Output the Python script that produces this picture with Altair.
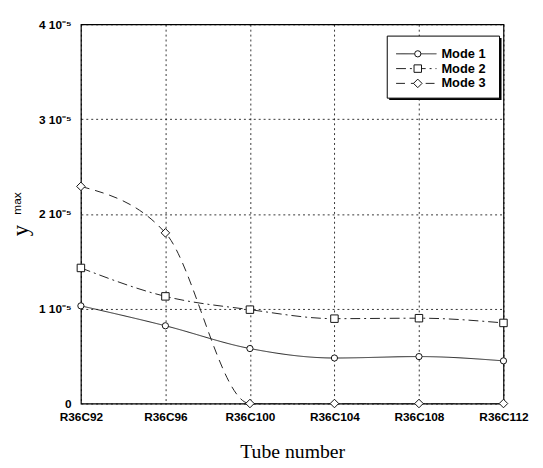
import altair as alt
import pandas as pd

tubes = ["R36C92", "R36C96", "R36C100", "R36C104", "R36C108", "R36C112"]
modes = ["Mode 1", "Mode 2", "Mode 3"]
mode1 = [1.03e-5, 0.82e-5, 0.58e-5, 0.48e-5, 0.495e-5, 0.45e-5]
mode2 = [1.43e-5, 1.13e-5, 0.99e-5, 0.895e-5, 0.90e-5, 0.85e-5]
mode3 = [2.29e-5, 1.80e-5, 0.0, 0.0, 0.0, 0.0]
y_ticks = [0, 1e-5, 2e-5, 3e-5, 4e-5]

rows = []
for m, vals in zip(modes, [mode1, mode2, mode3]):
    for i, (t, v) in enumerate(zip(tubes, vals)):
        rows.append({"mode": m, "idx": i, "tube": t, "y": v})
df = pd.DataFrame(rows)

dash_scale = alt.Scale(domain=modes, range=[[1, 0], [10, 4, 2, 4], [9, 6]])
shape_scale = alt.Scale(domain=modes, range=["circle", "square", "diamond"])
size_scale = alt.Scale(domain=modes, range=[40, 75, 40])

label_expr = "[" + ",".join("'%s'" % t for t in tubes) + "][datum.value]"

x_enc = alt.X("idx:Q", scale=alt.Scale(domain=[0, len(tubes) - 1], nice=False),
              axis=alt.Axis(values=list(range(len(tubes))), labelExpr=label_expr, labelFlush=False,
                            title="Tube number", titleFont="Liberation Serif",
                            titleFontSize=20, titleFontWeight="normal", titleColor="black",
                            titlePadding=20, labelPadding=8))
y_enc = alt.Y("y:Q", scale=alt.Scale(domain=[0, 4e-5], nice=False),
              axis=alt.Axis(values=y_ticks, labelPadding=10, labelFlush=False,
                            title="y", titleFont="Liberation Serif", titleFontSize=23,
                            titleFontWeight="normal", titleColor="black",
                            titleX=-61, titleY=209, titleAlign="center", titleBaseline="middle",
                            labelExpr="datum.value == 0 ? '0' : format(round(datum.value*1e5),'d') + ' 10\u207b\u2075'"))

lines = alt.Chart(df).mark_line(interpolate="monotone", strokeWidth=1, color="#222").encode(
    x=x_enc, y=y_enc,
    strokeDash=alt.StrokeDash("mode:N", scale=dash_scale, legend=None),
    detail="mode:N",
)
points = alt.Chart(df).mark_point(filled=False, color="#111", fill="white", fillOpacity=1, strokeWidth=1).encode(
    x="idx:Q", y="y:Q",
    shape=alt.Shape("mode:N", scale=shape_scale, legend=None),
    size=alt.Size("mode:N", scale=size_scale, legend=None),
)

# legend (layout in pixel space of the plot area)
leg = pd.DataFrame({"mode": modes, "row": [0, 1, 2]})
leg["ly"] = 30 + leg["row"] * 15
leg["x1"] = 320
leg["x2"] = 361
leg["xm"] = 342
leg["xt"] = 366
box = pd.DataFrame({"x": [311], "x2": [425], "y": [12], "y2": [75]})
shadow = alt.Chart(box).mark_rect(color="black").encode(
    x=alt.X("sx:Q", scale=None), x2="sx2:Q", y=alt.Y("sy:Q", scale=None), y2="sy2:Q"
).transform_calculate(sx="datum.x+2", sx2="datum.x2+2", sy="datum.y+2", sy2="datum.y2+2")
boxm = alt.Chart(box).mark_rect(fill="white", stroke="black", strokeWidth=1).encode(
    x=alt.X("x:Q", scale=None), x2="x2:Q", y=alt.Y("y:Q", scale=None), y2="y2:Q"
)
leg_lines = alt.Chart(leg).mark_rule(strokeWidth=1, color="#222").encode(
    x=alt.X("x1:Q", scale=None), x2="x2:Q", y=alt.Y("ly:Q", scale=None),
    strokeDash=alt.StrokeDash("mode:N", scale=dash_scale, legend=None),
)
leg_pts = alt.Chart(leg).mark_point(filled=False, color="#111", fill="white", fillOpacity=1, strokeWidth=1).encode(
    x=alt.X("xm:Q", scale=None), y=alt.Y("ly:Q", scale=None),
    shape=alt.Shape("mode:N", scale=shape_scale, legend=None),
    size=alt.Size("mode:N", scale=size_scale, legend=None),
)
leg_txt = alt.Chart(leg).mark_text(align="left", baseline="middle", font="Liberation Sans",
                                   fontSize=13, fontWeight="bold", color="black").encode(
    x=alt.X("xt:Q", scale=None), y=alt.Y("ly:Q", scale=None), text="mode:N"
)

# subscript "max" of the y-axis title
sub = pd.DataFrame({"t": ["max"], "px": [-65], "py": [182]})
sub_txt = alt.Chart(sub).mark_text(angle=270, font="Liberation Sans", fontSize=12,
                                   baseline="middle", align="center", color="black").encode(
    x=alt.X("px:Q", scale=None), y=alt.Y("py:Q", scale=None), text="t:N")

chart = alt.layer(lines, points, shadow, boxm, leg_lines, leg_pts, leg_txt, sub_txt).properties(
    width=429, height=385,
    autosize=alt.AutoSizeParams(type="none"),
    padding={"left": 74, "top": 13, "right": 32, "bottom": 66},
    background="white",
).configure_view(stroke="black", strokeWidth=1.2).configure_axis(
    grid=True, gridColor="black", gridDash=[2, 3], gridWidth=0.8, gridOpacity=1,
    domain=False, ticks=False,
    labelFont="Liberation Sans", labelFontSize=12, labelFontWeight="bold", labelColor="black",
)

chart.save("out.html", embed_options={"renderer": "svg", "actions": False})
